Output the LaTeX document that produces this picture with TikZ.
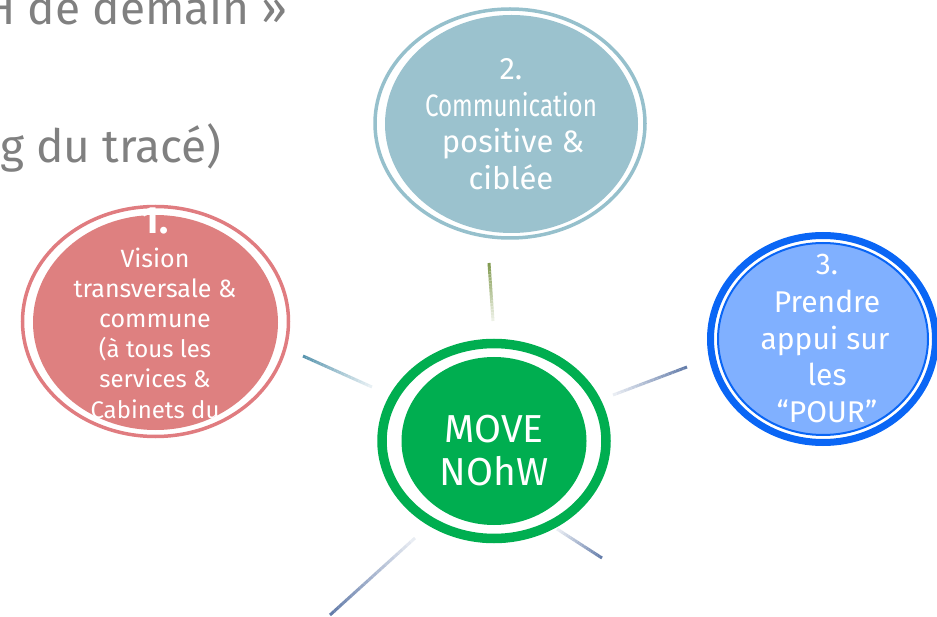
\documentclass[tikz,border=0pt]{standalone}
\usepackage{fontspec}
\setmainfont{Fira Sans}
\usetikzlibrary{calc,shapes.geometric}
\definecolor{grn}{RGB}{0,174,80}
\definecolor{redf}{RGB}{222,128,128}
\definecolor{redr}{RGB}{224,124,128}
\definecolor{tealf}{RGB}{155,194,206}
\definecolor{tealr}{RGB}{150,192,204}
\definecolor{blued}{RGB}{10,102,245}
\definecolor{bluel}{RGB}{128,176,255}
\definecolor{gtext}{RGB}{128,128,128}
\definecolor{lteal}{RGB}{90,150,175}
\definecolor{lslate}{RGB}{100,125,170}
\definecolor{lolive}{RGB}{130,155,80}
\newcommand\myfade[3]{%
  \foreach \i in {0,...,19}{%
    \pgfmathtruncatemacro\p{100-\i*4.5}%
    \draw[line width=3, color=#1!\p!white] ($(#2)!\i/20!(#3)$) -- ($(#2)!{(\i+1)/20}!(#3)$);
  }%
}
\tikzset{
  lbl/.style={anchor=base, inner sep=0, text=white},
  hdr/.style={inner sep=0, text=gtext, font=\fontsize{46}{54}\selectfont},
}
\begin{document}
\begin{tikzpicture}[x=1pt,y=-1pt]
\useasboundingbox (0,0) rectangle (937,617);
\clip (0,0) rectangle (937,617);

% header text
\node[hdr, anchor=base east] (h1) at (288,25) {H de demain »};
\node[hdr, anchor=base west] (h2) at (0,163) {g du tracé)};

% fading connectors
\coordinate (l1a) at (303,356); \coordinate (l1b) at (372,387);
\coordinate (l2a) at (489,263); \coordinate (l2b) at (493,321);
\coordinate (l3a) at (687,367); \coordinate (l3b) at (613,395);
\coordinate (l4a) at (602,558); \coordinate (l4b) at (557,529);
\coordinate (l5a) at (330,615); \coordinate (l5b) at (415,538);
\myfade{lteal}{l1a}{l1b}
\myfade{lolive}{l2a}{l2b}
\myfade{lslate}{l3a}{l3b}
\myfade{lslate}{l4a}{l4b}
\myfade{lslate}{l5a}{l5b}

% central ellipse
\node[ellipse, fill=grn, minimum width=185, minimum height=168, inner sep=0] (mv) at (494,441) {};
\draw[grn, line width=9.5] (mv.center) ellipse [x radius=112, y radius=97.5];
\begin{scope}[font=\fontsize{39}{43}\selectfont]
\node[lbl] (mv1) at (494,442) {MOVE};
\node[lbl] (mv2) at (494,485) {NOhW};
\end{scope}

% 1. red
\node[ellipse, fill=redf, minimum width=245, minimum height=215, inner sep=0] (e1) at (155.5,322.5) {};
\draw[redr, line width=3.5] (155.5,321.5) ellipse [x radius=133, y radius=115];
\node[lbl, font=\fontsize{38}{38}\selectfont\bfseries] (e1n) at (155,234) {1.};
\begin{scope}[font=\fontsize{25}{30}\selectfont]
\node[lbl] (e1a) at (155,268) {Vision};
\node[lbl] (e1b) at (155,298) {transversale \&};
\node[lbl] (e1c) at (155,328) {commune};
\end{scope}
\begin{scope}[font=\fontsize{24}{30}\selectfont]
\node[lbl] (e1d) at (155,358) {(à tous les};
\node[lbl] (e1e) at (155,388) {services \&};
\node[lbl] (e1f) at (155,418) {Cabinets du};
\end{scope}

% 2. teal
\node[ellipse, fill=tealf, minimum width=253, minimum height=218, inner sep=0] (e2) at (511.5,124) {};
\draw[tealr, line width=3.5] (510,123.5) ellipse [x radius=135, y radius=114.5];
\begin{scope}[font=\fontsize{31}{37}\selectfont]
\node[lbl] (e2n) at (511,80) {2.};
\node[lbl] (e2a) at (511,117) {\scalebox{0.78}[1]{Communication}};
\node[lbl] (e2b) at (513,153) {positive \&};
\node[lbl] (e2c) at (511,190) {ciblée};
\end{scope}

% 3. blue
\draw[blued, line width=7] (823,339) ellipse [x radius=112.5, y radius=103.5];
\node[ellipse, draw=blued, line width=2, fill=bluel, minimum width=210, minimum height=192, inner sep=0] (e3) at (823,339) {};
\begin{scope}[font=\fontsize{30}{37}\selectfont]
\node[lbl] (e3n) at (827,275) {3.};
\node[lbl] (e3a) at (827,313) {Prendre};
\node[lbl] (e3b) at (825,350) {appui sur};
\node[lbl] (e3c) at (827,386) {les};
\node[lbl] (e3d) at (827,422) {“POUR”};
\end{scope}
\end{tikzpicture}
\end{document}
